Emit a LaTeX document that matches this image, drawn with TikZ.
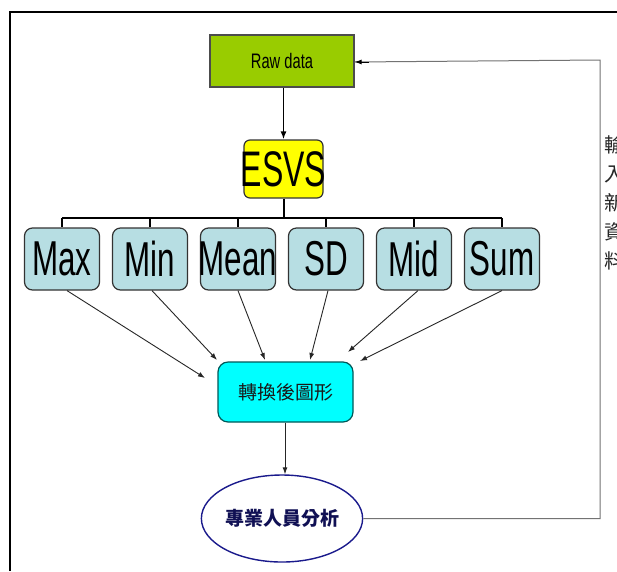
\documentclass[tikz,border=0pt]{standalone}
\usepackage{fontspec}
\usetikzlibrary{shapes.geometric,arrows.meta,calc}
\newfontfamily\narrowfont[FakeStretch=0.64]{Liberation Sans}
\newfontfamily\rawfont[FakeStretch=0.70]{Liberation Sans}
\newfontfamily\cjk{Noto Sans CJK TC}
\definecolor{rawgreen}{HTML}{99CC00}
\definecolor{statblue}{HTML}{B7DEE3}
\definecolor{esvsyellow}{HTML}{FFFF00}
\definecolor{convcyan}{HTML}{00FFFF}
\definecolor{ellblue}{HTML}{1A1A8C}
\tikzset{
  statbox/.style={draw=black!80, line width=1.2pt, fill=statblue, rounded corners=8pt,
    minimum width=75pt, minimum height=62pt, inner sep=0pt,
    font=\narrowfont\fontsize{49}{49}\selectfont},
  treeline/.style={line width=2pt, black},
  arr/.style={-{Latex[length=7pt,width=5pt]}, line width=0.9pt, black!85},
  feedback/.style={line width=1pt, black!55},
}
\begin{document}
\begin{tikzpicture}[x=1pt,y=-1pt]
\useasboundingbox (0,0) rectangle (617,571);
\fill[white] (0,0) rectangle (617,571);
% frame
\draw[line width=2.5pt] (10,571) -- (10,12) -- (620,12);
% raw data
\node[draw=black!70, line width=1.2pt, fill=rawgreen, minimum width=144pt, minimum height=52pt, inner sep=0pt,
  font=\rawfont\fontsize{21}{21}\selectfont] (raw) at (282,61) {Raw data};
% ESVS
\node[draw=black!80, line width=1.2pt, fill=esvsyellow, rounded corners=6pt, minimum width=79pt, minimum height=58pt, inner sep=0pt,
  font=\narrowfont\fontsize{50}{50}\selectfont] (esvs) at (283.5,169) {\makebox[0pt]{ESVS}};
\draw[-{Latex[length=8pt,width=6pt]}, line width=1.5pt] (raw.south -| esvs.north) -- (esvs.north);
% stat boxes
\node[statbox] (max)  at (62,259)  {\makebox[0pt]{Max}};
\node[statbox] (min)  at (150,259) {\makebox[0pt]{Min}};
\node[statbox] (mean) at (238,259) {\makebox[0pt]{Mean}};
\node[statbox] (sd)   at (326,259) {\makebox[0pt]{SD}};
\node[statbox] (mid)  at (414,259) {\makebox[0pt]{Mid}};
\node[statbox] (sum)  at (502,259) {\makebox[0pt]{Sum}};
% tree
\coordinate (bar) at (283.5,218);
\draw[treeline] (esvs.south) -- (bar);
\draw[treeline] (max.north |- bar) -- (sum.north |- bar);
\foreach \b in {max,min,mean,sd,mid,sum} \draw[treeline] (\b.north |- bar) -- (\b.north);
% converted figure
\node[draw=teal!70!black, line width=1.2pt, fill=convcyan, rounded corners=10pt, minimum width=135pt, minimum height=60pt, inner sep=0pt,
  font=\cjk\fontsize{19}{19}\selectfont, text=black!90] (conv) at (285.5,392) {轉換後圖形};
\coordinate (e1) at (205,378);
\coordinate (e2) at (217,360);
\coordinate (e3) at (265,360);
\coordinate (e4) at (310,360);
\coordinate (e5) at (348,352);
\coordinate (e6) at (360,361);
\draw[arr] ([xshift=5pt]max.south) -- (e1);
\draw[arr] ([xshift=2pt]min.south) -- (e2);
\draw[arr] (mean.south) -- (e3);
\draw[arr] ([xshift=2pt]sd.south) -- (e4);
\draw[arr] ([xshift=4pt]mid.south) -- (e5);
\draw[arr] (sum.south) -- (e6);
% ellipse
\node[ellipse, draw=ellblue, line width=1.4pt, fill=white, minimum width=140pt, minimum height=87pt, inner sep=0pt,
  font=\cjk\bfseries\fontsize{19}{19}\selectfont, text=ellblue!60!black] (ana) at (282,518.5) {專業人員分析};
\draw[arr] (conv.south -| 285,0) -- (ana.north -| 285,0);
% feedback
\coordinate (fb1) at (600,518.5);
\coordinate (fb2) at (600,60);
\draw[feedback] (ana.east) -- (fb1) -- (fb2) -- ([yshift=-1pt]raw.east);
\draw[-{Latex[length=7pt,width=5pt]}, line width=1pt, black] ([xshift=14pt,yshift=-1pt]raw.east) -- ([yshift=-1pt]raw.east);
% vertical label
\node[font=\cjk\fontsize{20}{29}\selectfont, align=center, inner sep=0pt, text=black!85] (lbl) at (614,203) {輸\\入\\新\\資\\料};
\end{tikzpicture}
\end{document}
